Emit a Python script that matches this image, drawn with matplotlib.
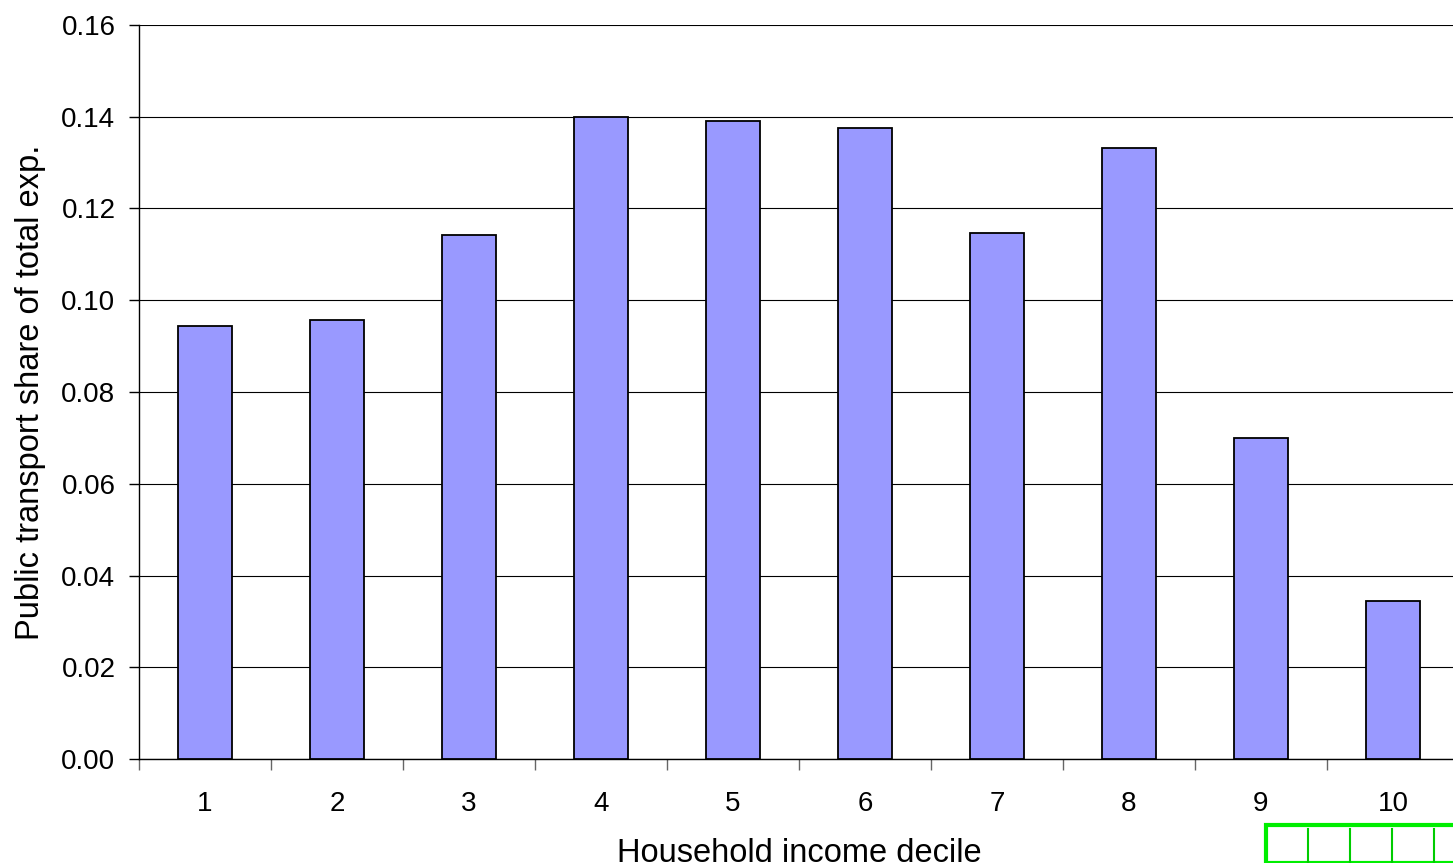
import matplotlib.pyplot as plt
from matplotlib.patches import Rectangle
from matplotlib.ticker import FixedLocator, FormatStrFormatter

plt.rcParams["font.family"] = ["Liberation Sans", "DejaVu Sans"]

deciles = ["1", "2", "3", "4", "5", "6", "7", "8", "9", "10"]
transport_share = [0.0944, 0.0957, 0.1142, 0.1399, 0.1391, 0.1375, 0.1147, 0.1332, 0.0700, 0.0344]
y_ticks = [0.00, 0.02, 0.04, 0.06, 0.08, 0.10, 0.12, 0.14, 0.16]

fig = plt.figure(figsize=(14.53, 8.63), dpi=100)
ax = fig.add_axes([139 / 1453, 1 - 759 / 863, 1320 / 1453, 734 / 863])

positions = list(range(len(deciles)))
ax.bar(positions, transport_share, width=0.41, color="#9999ff",
       edgecolor="black", linewidth=1.3, zorder=3)

ax.set_xlim(-0.5, len(deciles) - 0.5)
ax.set_ylim(0, 0.16)

# labels sit under the bars, tick marks sit between categories
ax.set_xticks(positions)
ax.set_xticklabels(deciles)
ax.xaxis.set_minor_locator(FixedLocator([p - 0.5 for p in positions] + [len(deciles) - 0.5]))
ax.tick_params(axis="x", which="major", length=0, pad=23, labelsize=20)
ax.tick_params(axis="x", which="minor", length=8, width=1, color="#666666", direction="out")

ax.set_yticks(y_ticks)
ax.yaxis.set_major_formatter(FormatStrFormatter("%.2f"))
ax.tick_params(axis="y", length=7, width=1, color="black", pad=10, labelsize=20)

ax.grid(axis="y", color="#000000", linewidth=0.8, zorder=0)
ax.set_axisbelow(True)

for side in ["right", "top"]:
    ax.spines[side].set_visible(False)
ax.spines["left"].set_linewidth(1)
ax.spines["bottom"].set_linewidth(1)

ax.set_xlabel("Household income decile", fontsize=23.5, labelpad=15)
ax.set_ylabel("Public transport share of total exp.", fontsize=23.5, labelpad=11)

# green selection frame in the lower right corner
fig.add_artist(Rectangle((1266 / 1453, 0), 200 / 1453, 38 / 863,
                         transform=fig.transFigure, fill=False,
                         edgecolor="#00ee00", linewidth=3, clip_on=False))
for x in [1308, 1350, 1392, 1434]:
    fig.add_artist(plt.Line2D([x / 1453, x / 1453], [0, 34 / 863],
                              transform=fig.transFigure, color="#00cc00", linewidth=1.5))

fig.savefig("out.png", dpi=100)
